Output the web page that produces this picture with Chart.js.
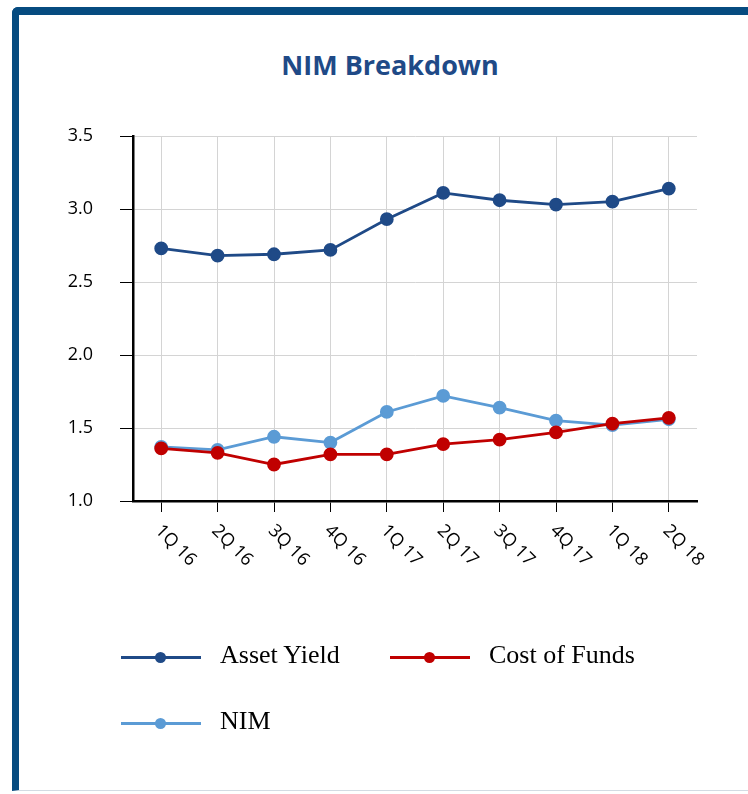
<!DOCTYPE html>
<html>
<head>
<meta charset="utf-8">
<script src="https://cdn.jsdelivr.net/npm/chart.js@4"></script>
<style>
  html, body { margin: 0; padding: 0; background: #fff; }
  body { width: 748px; height: 794px; position: relative; overflow: hidden; }
  .frame {
    position: absolute; left: 12px; top: 7px; width: 800px; height: 775px;
    border-left: 7px solid #064b80; border-top: 8px solid #064b80;
    border-bottom: 1px solid #d3dbe3; border-top-left-radius: 6px;
  }
  .title {
    position: absolute; left: 0; width: 780px; top: 46px; text-align: center;
    font: bold 27px "Open Sans", sans-serif; color: #1f4a87;
  }
  #chart { position: absolute; left: 0; top: 0; }
  .legend { position: absolute; left: 0; top: 0; font: 26px "Liberation Serif", serif; color: #000; }
  .item { position: absolute; height: 30px; }
  .item .line { position: absolute; left: 0; top: 13px; width: 80px; height: 3px; }
  .item .dot { position: absolute; left: 34px; top: 9px; width: 11px; height: 11px; border-radius: 50%; }
  .item .txt { position: absolute; left: 99px; top: -3px; white-space: nowrap; }
</style>
</head>
<body>
<div class="frame"></div>
<div class="title">NIM Breakdown</div>
<canvas id="chart" width="748" height="794"></canvas>
<div class="legend" id="legend"></div>
<script>
// data
const quarters = ['1Q 16', '2Q 16', '3Q 16', '4Q 16', '1Q 17', '2Q 17', '3Q 17', '4Q 17', '1Q 18', '2Q 18'];
const assetYield = [2.73, 2.68, 2.69, 2.72, 2.93, 3.11, 3.06, 3.03, 3.05, 3.14];
const costOfFunds = [1.36, 1.33, 1.25, 1.32, 1.32, 1.39, 1.42, 1.47, 1.53, 1.57];
const nim = [1.37, 1.35, 1.44, 1.40, 1.61, 1.72, 1.64, 1.55, 1.52, 1.56];

const series = [
  { label: 'Asset Yield', data: assetYield, color: '#1f4a87' },
  { label: 'Cost of Funds', data: costOfFunds, color: '#c00000' },
  { label: 'NIM', data: nim, color: '#5b9bd5' }
];

// rotated x labels (clockwise, reading downwards)
const slantedLabels = {
  id: 'slantedLabels',
  afterDraw(chart) {
    const ctx = chart.ctx;
    const xs = chart.scales.x;
    ctx.save();
    ctx.font = '18px "Open Sans", sans-serif';
    ctx.fillStyle = '#000';
    ctx.textAlign = 'left';
    ctx.textBaseline = 'middle';
    quarters.forEach((q, i) => {
      const x = xs.getPixelForValue(i);
      ctx.save();
      ctx.translate(x - 3, 528);
      ctx.rotate(Math.PI / 4);
      ctx.fillText(q, 0, 0);
      ctx.restore();
    });
    ctx.restore();
  }
};

const ctx = document.getElementById('chart').getContext('2d');
new Chart(ctx, {
  type: 'line',
  data: {
    labels: quarters,
    datasets: series.map(s => ({
      label: s.label,
      data: s.data,
      borderColor: s.color,
      backgroundColor: s.color,
      borderWidth: 2.8,
      pointRadius: 5.5,
      pointHoverRadius: 5.5,
      tension: 0
    }))
  },
  options: {
    responsive: false,
    animation: false,
    layout: { padding: { left: 63, right: 51, top: 136, bottom: 193 } },
    plugins: { legend: { display: false }, title: { display: false }, tooltip: { enabled: false } },
    scales: {
      x: {
        offset: true,
        grid: { offset: false, color: '#d4d4d4', tickColor: '#000', tickLength: 11, lineWidth: 1 },
        border: { color: '#000', width: 2.5 },
        ticks: { display: false },
        afterFit(scale) { scale.height = 100; }
      },
      y: {
        min: 1, max: 3.5,
        grid: { color: '#d4d4d4', tickColor: '#000', tickLength: 13 },
        border: { color: '#000', width: 2.5 },
        ticks: {
          stepSize: 0.5, padding: 27, color: '#000',
          font: { family: '"Open Sans", sans-serif', size: 18 },
          callback: v => Number(v).toFixed(1)
        },
        afterFit(scale) { scale.width = 70; }
      }
    }
  },
  plugins: [slantedLabels]
});

// legend
const legendPos = [[121, 643], [390, 643], [121, 709]];
const legend = document.getElementById('legend');
series.forEach((s, i) => {
  const el = document.createElement('div');
  el.className = 'item';
  el.style.left = legendPos[i][0] + 'px';
  el.style.top = legendPos[i][1] + 'px';
  el.innerHTML = '<div class="line" style="background:' + s.color + '"></div>' +
    '<div class="dot" style="background:' + s.color + '"></div>' +
    '<div class="txt">' + s.label + '</div>';
  legend.appendChild(el);
});
</script>
</body>
</html>
